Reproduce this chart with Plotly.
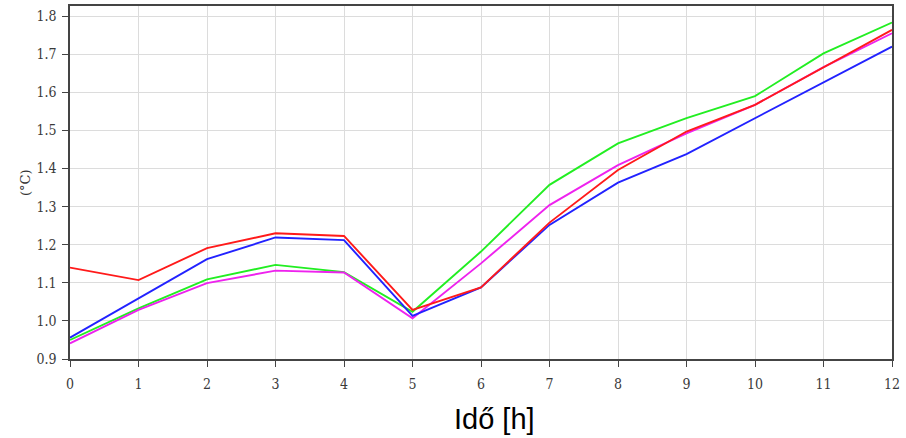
import plotly.graph_objects as go

hours = list(range(13))
red = [1.140, 1.107, 1.191, 1.230, 1.223, 1.029, 1.088, 1.258, 1.396, 1.497, 1.567, 1.666, 1.764]
blue = [0.956, 1.059, 1.162, 1.219, 1.212, 1.013, 1.088, 1.252, 1.363, 1.438, 1.532, 1.627, 1.720]
green = [0.950, 1.033, 1.109, 1.147, 1.128, 1.024, 1.182, 1.357, 1.466, 1.532, 1.590, 1.702, 1.783]
magenta = [0.941, 1.029, 1.099, 1.132, 1.127, 1.007, 1.151, 1.304, 1.409, 1.492, 1.567, 1.666, 1.755]
y_ticks = [0.9, 1.0, 1.1, 1.2, 1.3, 1.4, 1.5, 1.6, 1.7, 1.8]

fig = go.Figure()
for name, vals, col in [("green", green, "#22ee22"), ("magenta", magenta, "#ee22ee"),
                        ("blue", blue, "#2222ff"), ("red", red, "#ff1a1a")]:
    fig.add_trace(go.Scatter(x=hours, y=vals, mode="lines", name=name,
                             line=dict(color=col, width=1.9)))

tickfont = dict(family="DejaVu Serif Condensed, DejaVu Serif", size=14, color="#3a3a3a")
fig.update_layout(
    width=906, height=438,
    margin=dict(l=70, r=14, t=6, b=79),
    paper_bgcolor="white", plot_bgcolor="white",
    showlegend=False,
    xaxis=dict(range=[0, 12], tickvals=hours, ticktext=[str(h) for h in hours],
               showgrid=True, gridcolor="#dcdcdc", gridwidth=1,
               ticks="outside", ticklen=6, tickcolor="#444",
               showline=True, linecolor="#444", linewidth=1.5, mirror=True,
               tickfont=tickfont, zeroline=False, automargin=False,
               ticklabelstandoff=5),
    yaxis=dict(range=[0.9, 1.8265], tickvals=y_ticks, ticktext=[f"{v:.1f}" for v in y_ticks],
               showgrid=True, gridcolor="#dcdcdc", gridwidth=1,
               ticks="outside", ticklen=6, tickcolor="#444",
               showline=True, linecolor="#444", linewidth=1.5, mirror=True,
               tickfont=tickfont, zeroline=False, automargin=False,
               ticklabelstandoff=3),
    annotations=[
        dict(text="Idő [h]", x=(494 - 70) / 822, y=(438 - 419 - 79) / 353,
             xref="paper", yref="paper",
             showarrow=False, font=dict(family="Liberation Sans", size=29, color="#000"),
             xanchor="center", yanchor="middle"),
        dict(text="(°C)", x=(25 - 70) / 822, y=(438 - 183 - 79) / 353,
             xref="paper", yref="paper", textangle=-90,
             showarrow=False, font=dict(family="DejaVu Serif", size=13, color="#333"),
             xanchor="center", yanchor="middle"),
    ],
)
fig.write_html("out.html", config={"displayModeBar": False},
               post_script="document.body.style.margin='0';")
